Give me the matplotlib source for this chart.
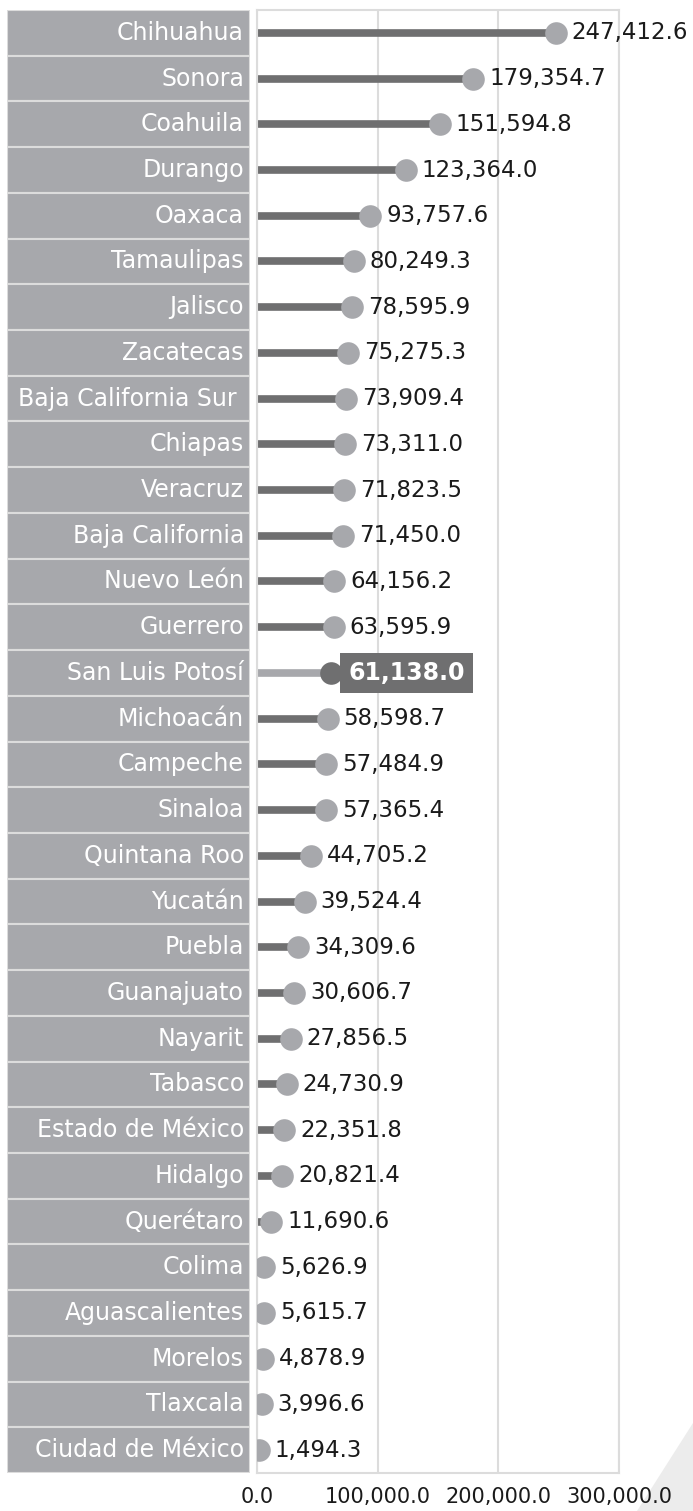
import matplotlib.pyplot as plt
from matplotlib.patches import Polygon
from matplotlib.ticker import FuncFormatter

estados = ['Chihuahua', 'Sonora', 'Coahuila', 'Durango', 'Oaxaca', 'Tamaulipas',
           'Jalisco', 'Zacatecas', 'Baja California Sur ', 'Chiapas', 'Veracruz',
           'Baja California', 'Nuevo León', 'Guerrero', 'San Luis Potosí',
           'Michoacán', 'Campeche', 'Sinaloa', 'Quintana Roo', 'Yucatán', 'Puebla',
           'Guanajuato', 'Nayarit', 'Tabasco', 'Estado de México', 'Hidalgo',
           'Querétaro', 'Colima', 'Aguascalientes', 'Morelos', 'Tlaxcala',
           'Ciudad de México']
valores = [247412.6, 179354.7, 151594.8, 123364.0, 93757.6, 80249.3, 78595.9,
           75275.3, 73909.4, 73311.0, 71823.5, 71450.0, 64156.2, 63595.9, 61138.0,
           58598.7, 57484.9, 57365.4, 44705.2, 39524.4, 34309.6, 30606.7, 27856.5,
           24730.9, 22351.8, 20821.4, 11690.6, 5626.9, 5615.7, 4878.9, 3996.6,
           1494.3]
destacado = 'San Luis Potosí'
ticks = [0, 100000, 200000, 300000]

OSCURO = '#6f6f70'
CLARO = '#a7a8ac'
LINEA = '#dcdcdc'

W, H = 693, 1511
fig = plt.figure(figsize=(W / 100, H / 100), dpi=100)

top = 1 - 10 / H
bottom = 1 - 1473 / H
n = len(estados)
ys = list(range(n))

# panel de etiquetas
axl = fig.add_axes([7 / W, bottom, (250 - 7) / W, top - bottom])
axl.barh(ys, [1] * n, height=1, left=0, color=CLARO, edgecolor=LINEA, linewidth=1.5)
for y, e in zip(ys, estados):
    axl.text(0.975, y, e, ha='right', va='center', color='white', fontsize=17)
axl.set_xlim(0, 1)
axl.set_ylim(n - 0.5, -0.5)
axl.axis('off')

# grafico principal
ax = fig.add_axes([257 / W, bottom, (619 - 257) / W, top - bottom])
for y, e, v in zip(ys, estados, valores):
    if e == destacado:
        ax.hlines(y, 0, v, color=CLARO, linewidth=5.5, zorder=2)
        ax.scatter(v, y, s=265, color=OSCURO, zorder=3, linewidths=0)
        ax.annotate(f'{v:,.1f}', (v, y), xytext=(12.5, 0), textcoords='offset points',
                    ha='left', va='center', fontsize=17, fontweight='bold',
                    color='white',
                    bbox=dict(boxstyle='square,pad=0.35', fc=OSCURO, ec='none'))
    else:
        ax.hlines(y, 0, v, color=OSCURO, linewidth=5.5, zorder=2)
        ax.scatter(v, y, s=265, color=CLARO, zorder=3, linewidths=0)
        ax.annotate(f'{v:,.1f}', (v, y), xytext=(11.5, 0), textcoords='offset points',
                    ha='left', va='center', fontsize=16.5, color='#1a1a1a',
                    annotation_clip=False)

ax.set_xlim(0, 300000)
ax.set_ylim(n - 0.5, -0.5)
ax.set_xticks(ticks)
ax.xaxis.set_major_formatter(FuncFormatter(lambda x, p: f'{x:,.1f}'))
ax.tick_params(axis='x', length=0, pad=10, labelsize=15, labelcolor='#1a1a1a')
ax.set_yticks([])
ax.grid(axis='x', color=LINEA, linewidth=1.5, zorder=0)
ax.set_axisbelow(True)
for s in ax.spines.values():
    s.set_color(LINEA)
    s.set_linewidth(1.5)

# triangulo decorativo en la esquina
tri = Polygon([(693 / W, 1 - 1423 / H), (637 / W, 0), (1, 0)], closed=True,
              transform=fig.transFigure, fc='#ececec', ec='none', zorder=-1)
fig.patches.append(tri)

fig.savefig('out.png', dpi=100)
